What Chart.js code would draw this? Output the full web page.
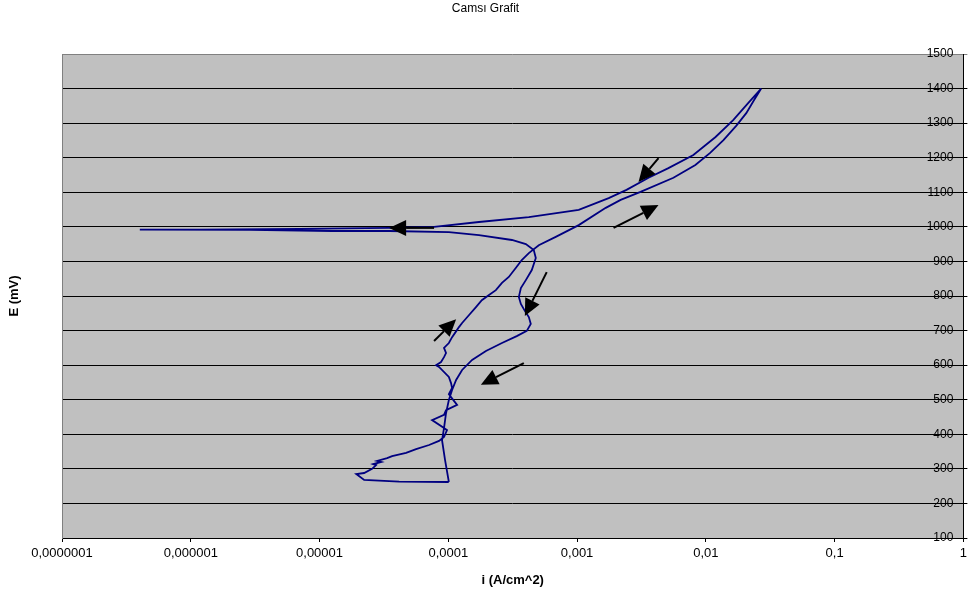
<!DOCTYPE html>
<html>
<head>
<meta charset="utf-8">
<script src="https://cdn.jsdelivr.net/npm/chart.js@4.4.1/dist/chart.umd.min.js"></script>
<style>
  html, body { margin: 0; padding: 0; background: #fff; }
  #wrap { width: 971px; height: 596px; position: relative; }
</style>
</head>
<body>
<div id="wrap"><canvas id="camsi-grafit-chart"></canvas></div>
<script>
// cyclic polarization scan (i in A/cm^2, E in mV)
const currentDensity = [
    1.01e-4, 4.15e-5, 2.22e-5, 1.93e-5, 2.22e-5, 2.56e-5, 2.75e-5, 2.61e-5, 3.01e-5, 2.80e-5,
    3.35e-5, 3.66e-5, 4.70e-5, 5.62e-5, 7.09e-5, 8.47e-5, 9.26e-5, 9.77e-5, 9.26e-5, 7.48e-5,
    9.26e-5, 9.60e-5, 1.17e-4, 1.11e-4, 1.01e-4, 1.07e-4, 1.05e-4, 1.01e-4, 8.47e-5, 8.03e-5,
    8.78e-5, 9.26e-5, 9.60e-5, 9.26e-5, 1.01e-4, 1.07e-4, 1.17e-4, 1.21e-4, 1.28e-4, 1.45e-4,
    1.64e-4, 1.82e-4, 2.07e-4, 2.34e-4, 2.61e-4, 2.95e-4, 3.34e-4, 3.72e-4, 4.22e-4, 5.04e-4,
    6.83e-4, 1.03e-3, 1.67e-3, 2.18e-3, 3.11e-3, 5.60e-3, 8.29e-3, 1.08e-2, 1.37e-2, 1.72e-2,
    2.06e-2, 2.37e-2, 2.69e-2,
    // reverse
    2.13e-2, 1.63e-2, 1.19e-2, 8.00e-3, 5.12e-3, 3.59e-3, 2.42e-3, 1.76e-3, 1.03e-3, 4.22e-4,
    1.73e-4, 7.75e-5, 3.47e-5, 6.97e-6, 1.17e-6, 4.02e-7,
    2.86e-6, 1.26e-5, 3.47e-5, 1.01e-4, 1.73e-4, 3.12e-4, 4.00e-4, 4.61e-4, 4.78e-4, 4.45e-4,
    4.00e-4, 3.66e-4, 3.53e-4, 3.66e-4, 3.93e-4, 4.22e-4, 4.37e-4, 4.07e-4, 3.40e-4, 2.61e-4,
    1.96e-4, 1.53e-4, 1.28e-4, 1.15e-4, 1.07e-4, 1.01e-4, 9.60e-5, 9.26e-5, 8.94e-5, 9.43e-5, 1.01e-4
];
const potential = [
    262, 263, 268, 285, 288, 300, 311, 314, 320, 323,
    331, 337, 346, 357, 369, 381, 392, 412, 418, 441,
    456, 470, 485, 496, 516, 534, 548, 566, 595, 600,
    609, 623, 635, 650, 664, 681, 702, 710, 722, 745,
    768, 788, 803, 817, 838, 855, 881, 904, 924, 947,
    971, 1005, 1055, 1078, 1101, 1142, 1179, 1214, 1251, 1292,
    1329, 1367, 1400,
    // reverse
    1358, 1309, 1260, 1208, 1170, 1142, 1107, 1083, 1049, 1028,
    1014, 1000, 997, 994, 992, 992,
    991, 988, 988, 985, 976, 962, 950, 933, 910, 875,
    846, 823, 797, 777, 757, 739, 719, 699, 684, 664,
    641, 615, 586, 557, 528, 499, 461, 418, 383, 326, 262
];

const xTickValues = [1e-7, 1e-6, 1e-5, 1e-4, 1e-3, 1e-2, 1e-1, 1];
const xTickLabels = ['0,0000001', '0,000001', '0,00001', '0,0001', '0,001', '0,01', '0,1', '1'];

// scan direction arrows (tail -> head), in data units
const arrowFromI = [4.29e-3, 1.92e-3, 7.75e-5, 5.81e-4, 7.75e-5, 3.86e-4];
const arrowFromE = [1199, 997, 997, 869, 670, 606];
const arrowToI   = [3.00e-3, 4.29e-3, 3.47e-5, 3.93e-4, 1.15e-4, 1.79e-4];
const arrowToE   = [1130, 1063, 997, 742, 733, 543];

const FONT = '"Liberation Sans", Arial, sans-serif';

var points = currentDensity.map(function (v, i) { return {x: v, y: potential[i]}; });

var plotBackground = {
    id: 'plotBackground',
    beforeDraw: function (chart) {
        var a = chart.chartArea, ctx = chart.ctx;
        ctx.save();
        ctx.fillStyle = '#c0c0c0';
        ctx.fillRect(a.left, a.top, a.right - a.left, a.bottom - a.top);
        ctx.restore();
    }
};

var scanArrows = {
    id: 'scanArrows',
    afterDatasetsDraw: function (chart) {
        var ctx = chart.ctx, xs = chart.scales.x, ys = chart.scales.y;
        ctx.save();
        ctx.strokeStyle = '#000';
        ctx.fillStyle = '#000';
        ctx.lineWidth = 2;
        for (var k = 0; k < arrowFromI.length; k++) {
            var x1 = xs.getPixelForValue(arrowFromI[k]), y1 = ys.getPixelForValue(arrowFromE[k]);
            var x2 = xs.getPixelForValue(arrowToI[k]), y2 = ys.getPixelForValue(arrowToE[k]);
            var ang = Math.atan2(y2 - y1, x2 - x1);
            var len = 17, half = 8;
            var bx = x2 - len * Math.cos(ang), by = y2 - len * Math.sin(ang);
            ctx.beginPath();
            ctx.moveTo(x1, y1);
            ctx.lineTo(bx, by);
            ctx.stroke();
            ctx.beginPath();
            ctx.moveTo(x2, y2);
            ctx.lineTo(bx + half * Math.sin(ang), by - half * Math.cos(ang));
            ctx.lineTo(bx - half * Math.sin(ang), by + half * Math.cos(ang));
            ctx.closePath();
            ctx.fill();
        }
        ctx.restore();
    }
};

var config = {
    type: 'scatter',
    data: {
        datasets: [{
            data: points,
            showLine: true,
            borderColor: '#000080',
            borderWidth: 1.8,
            pointRadius: 0,
            tension: 0,
            fill: false
        }]
    },
    plugins: [plotBackground, scanArrows],
    options: {
        responsive: false,
        animation: false,
        layout: {padding: 0},
        plugins: {
            legend: {display: false},
            tooltip: {enabled: false},
            title: {
                display: true,
                text: 'Camsı Grafit',
                color: '#000',
                font: {family: FONT, size: 12, weight: 'normal'},
                padding: {top: 1, bottom: 38.6}
            }
        },
        scales: {
            x: {
                type: 'logarithmic',
                position: 'bottom',
                min: 1e-7,
                max: 1,
                afterBuildTicks: function (axis) {
                    axis.ticks = xTickValues.map(function (v) { return {value: v}; });
                },
                afterFit: function (axis) { axis.height = 58; },
                ticks: {
                    autoSkip: false,
                    maxRotation: 0,
                    color: '#000',
                    padding: 4,
                    font: {family: FONT, size: 13},
                    callback: function (v, idx) { return xTickLabels[idx]; }
                },
                grid: {drawOnChartArea: false, drawTicks: true, tickLength: 4, color: '#000'},
                border: {color: '#000', width: 1},
                title: {
                    display: true,
                    text: 'i (A/cm^2)',
                    color: '#000',
                    font: {family: FONT, size: 13, weight: 'bold'},
                    padding: {top: 0, bottom: 8}
                }
            },
            y: {
                type: 'linear',
                position: 'right',
                min: 100,
                max: 1500,
                afterFit: function (axis) { axis.width = 5; },
                ticks: {
                    stepSize: 100,
                    mirror: true,
                    padding: -10,
                    color: '#000',
                    font: {family: FONT, size: 12},
                    callback: function (v) { return String(v); }
                },
                grid: {
                    color: function (c) { return c.tick && c.tick.value === 1500 ? '#808080' : '#000'; },
                    lineWidth: 1,
                    tickLength: 4
                },
                border: {color: '#000', width: 1}
            },
            yTitle: {
                type: 'linear',
                position: 'left',
                min: 100,
                max: 1500,
                afterFit: function (axis) { axis.width = 62; },
                ticks: {display: false},
                grid: {drawOnChartArea: false, drawTicks: false},
                border: {display: true, color: '#808080', width: 1},
                title: {
                    display: true,
                    text: 'E (mV)',
                    color: '#000',
                    font: {family: FONT, size: 13, weight: 'bold'},
                    padding: {top: 7, bottom: 0}
                }
            }
        }
    }
};

var canvas = document.getElementById('camsi-grafit-chart');
canvas.width = 971;
canvas.height = 596;
var ctx = canvas.getContext('2d');
window.camsiGrafitChart = new Chart(ctx, config);
</script>
</body>
</html>
